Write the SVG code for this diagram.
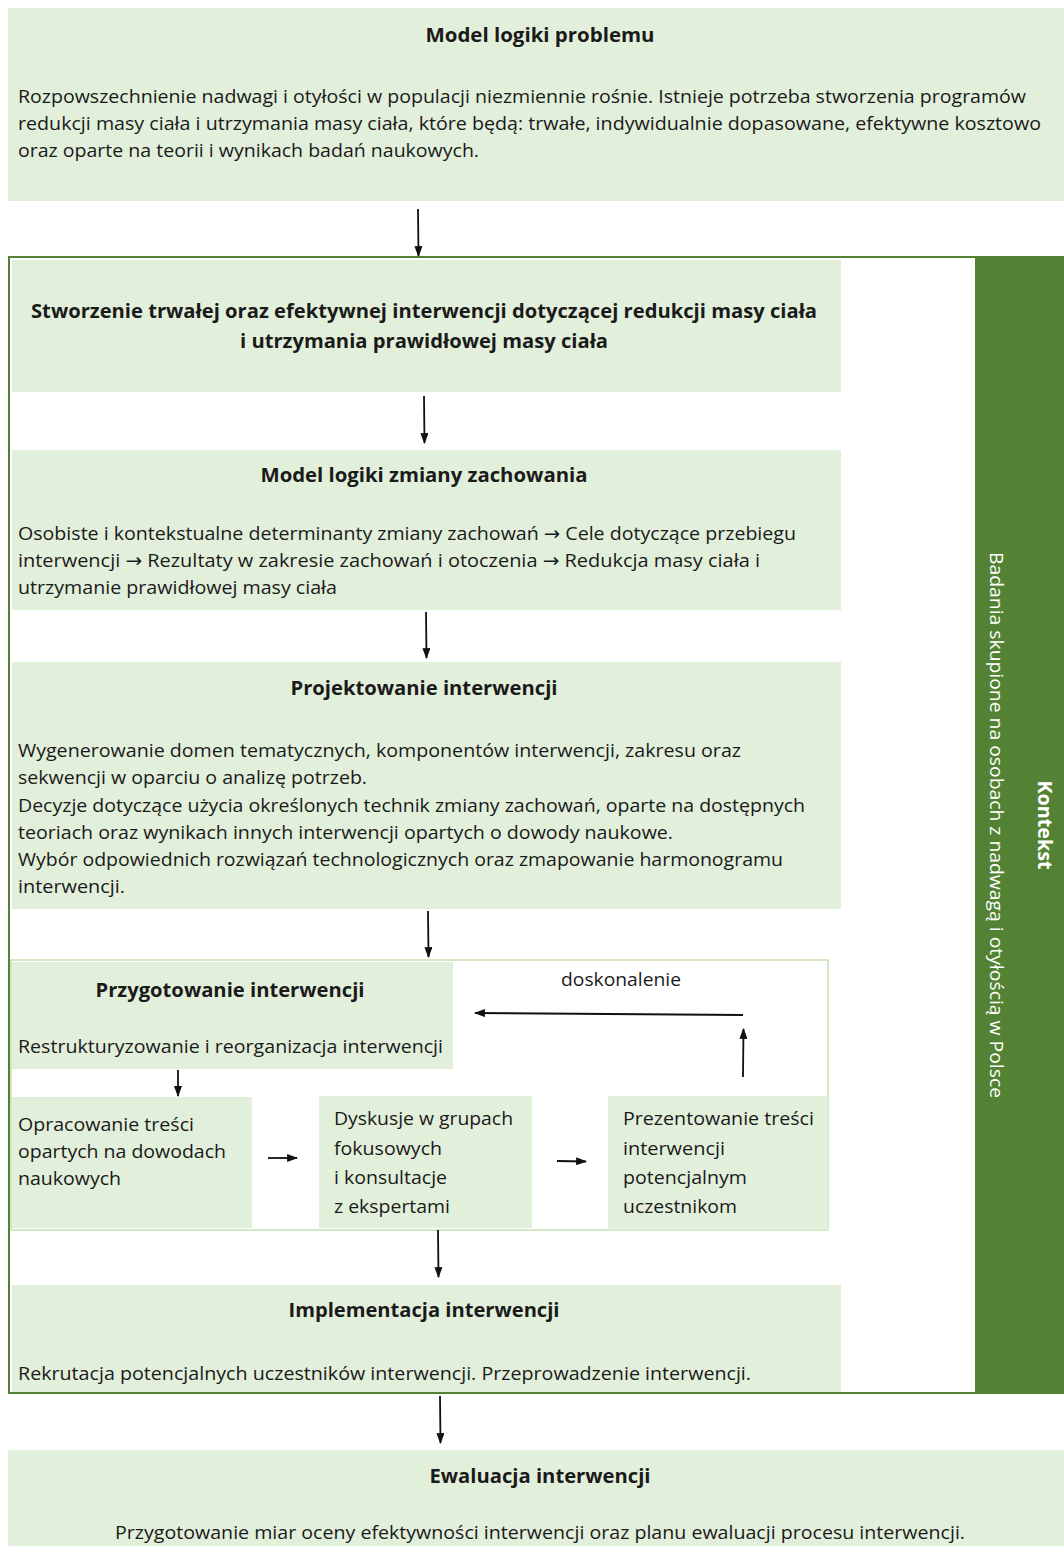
<svg xmlns="http://www.w3.org/2000/svg" width="1064" height="1546" viewBox="0 0 1064 1546">
<style>
.box{fill:#e2efda}
.t{font-family:"Open Sans","Liberation Sans",sans-serif;font-size:19px;fill:#1a1a1a}
.b{font-family:"Open Sans","Liberation Sans",sans-serif;font-size:20px;font-weight:bold;fill:#1a1a1a}
.c{text-anchor:middle}
.arr{font-family:"DejaVu Sans",sans-serif}
.ar{stroke:#111;stroke-width:1.8;fill:none;marker-end:url(#ah)}
</style>
<defs>
<marker id="ah" viewBox="0 0 10 10" refX="9" refY="5" markerWidth="11" markerHeight="8" markerUnits="userSpaceOnUse" orient="auto" preserveAspectRatio="none">
<path d="M0,0 L10,5 L0,10 z" fill="#111"/>
</marker>
</defs>
<rect width="1064" height="1546" fill="#ffffff"/>

<g id="frame">
<rect x="9" y="257" width="1055" height="1136" fill="none" stroke="#548235" stroke-width="2"/>
<rect x="11" y="960" width="817" height="270" fill="none" stroke="#c5e0b4" stroke-width="1.5"/>
</g>

<g id="context">
<rect x="975" y="257" width="89" height="1137" fill="#548235"/>
<text class="b c" style="fill:#ffffff" transform="translate(1045,825) rotate(90)" dominant-baseline="central" textLength="89" lengthAdjust="spacingAndGlyphs">Kontekst</text>
<text class="t c" style="fill:#ffffff" transform="translate(997,825) rotate(90)" dominant-baseline="central" textLength="546" lengthAdjust="spacingAndGlyphs">Badania skupione na osobach z nadwagą i otyłością w Polsce</text>
</g>

<g id="problem">
<rect class="box" x="8" y="8" width="1056" height="193"/>
<text class="b c" x="540" y="42" textLength="229" lengthAdjust="spacingAndGlyphs">Model logiki problemu</text>
<text class="t" x="18" y="103" textLength="1008" lengthAdjust="spacingAndGlyphs">Rozpowszechnienie nadwagi i otyłości w populacji niezmiennie rośnie. Istnieje potrzeba stworzenia programów</text>
<text class="t" x="18" y="130" textLength="1023" lengthAdjust="spacingAndGlyphs">redukcji masy ciała i utrzymania masy ciała, które będą: trwałe, indywidualnie dopasowane, efektywne kosztowo</text>
<text class="t" x="18" y="157" textLength="461" lengthAdjust="spacingAndGlyphs">oraz oparte na teorii i wynikach badań naukowych.</text>
</g>

<g id="goal">
<rect class="box" x="12" y="260" width="829" height="132"/>
<text class="b c" x="424" y="318" textLength="786" lengthAdjust="spacingAndGlyphs">Stworzenie trwałej oraz efektywnej interwencji dotyczącej redukcji masy ciała</text>
<text class="b c" x="424" y="348" textLength="368" lengthAdjust="spacingAndGlyphs">i utrzymania prawidłowej masy ciała</text>
</g>

<g id="behaviour">
<rect class="box" x="12" y="450" width="829" height="160"/>
<text class="b c" x="424" y="482" textLength="327" lengthAdjust="spacingAndGlyphs">Model logiki zmiany zachowania</text>
<text class="t" x="18" y="540" textLength="778" lengthAdjust="spacingAndGlyphs">Osobiste i kontekstualne determinanty zmiany zachowań <tspan class="arr">→</tspan> Cele dotyczące przebiegu</text>
<text class="t" x="18" y="567" textLength="742" lengthAdjust="spacingAndGlyphs">interwencji <tspan class="arr">→</tspan> Rezultaty w zakresie zachowań i otoczenia <tspan class="arr">→</tspan>  Redukcja masy ciała i</text>
<text class="t" x="18" y="594" textLength="319" lengthAdjust="spacingAndGlyphs">utrzymanie prawidłowej masy ciała</text>
</g>

<g id="design">
<rect class="box" x="12" y="662" width="829" height="247"/>
<text class="b c" x="424" y="695" textLength="267" lengthAdjust="spacingAndGlyphs">Projektowanie interwencji</text>
<text class="t" x="18" y="757" textLength="723" lengthAdjust="spacingAndGlyphs">Wygenerowanie domen tematycznych, komponentów interwencji, zakresu oraz</text>
<text class="t" x="18" y="784" textLength="349" lengthAdjust="spacingAndGlyphs">sekwencji w oparciu o analizę potrzeb.</text>
<text class="t" x="18" y="812" textLength="787" lengthAdjust="spacingAndGlyphs">Decyzje dotyczące użycia określonych technik zmiany zachowań, oparte na dostępnych</text>
<text class="t" x="18" y="839" textLength="655" lengthAdjust="spacingAndGlyphs">teoriach oraz wynikach innych interwencji opartych o dowody naukowe.</text>
<text class="t" x="18" y="866" textLength="765" lengthAdjust="spacingAndGlyphs">Wybór odpowiednich rozwiązań technologicznych oraz zmapowanie harmonogramu</text>
<text class="t" x="18" y="893" textLength="107" lengthAdjust="spacingAndGlyphs">interwencji.</text>
</g>

<g id="prep">
<rect class="box" x="12" y="962" width="441" height="107"/>
<text class="b c" x="230" y="997" textLength="269" lengthAdjust="spacingAndGlyphs">Przygotowanie interwencji</text>
<text class="t" x="18" y="1053" textLength="425" lengthAdjust="spacingAndGlyphs">Restrukturyzowanie i reorganizacja interwencji</text>
</g>

<g id="label-doskonalenie">
<text class="t c" x="621" y="986" textLength="120" lengthAdjust="spacingAndGlyphs">doskonalenie</text>
</g>

<g id="evidence">
<rect class="box" x="12" y="1097" width="240" height="131"/>
<text class="t" x="18" y="1131" textLength="176" lengthAdjust="spacingAndGlyphs">Opracowanie treści</text>
<text class="t" x="18" y="1158" textLength="208" lengthAdjust="spacingAndGlyphs">opartych na dowodach</text>
<text class="t" x="18" y="1185" textLength="103" lengthAdjust="spacingAndGlyphs">naukowych</text>
</g>

<g id="focus">
<rect class="box" x="319" y="1096" width="213" height="132"/>
<text class="t" x="334" y="1125" textLength="179" lengthAdjust="spacingAndGlyphs">Dyskusje w grupach</text>
<text class="t" x="334" y="1155" textLength="108" lengthAdjust="spacingAndGlyphs">fokusowych</text>
<text class="t" x="334" y="1184" textLength="113" lengthAdjust="spacingAndGlyphs">i konsultacje</text>
<text class="t" x="334" y="1213" textLength="116" lengthAdjust="spacingAndGlyphs">z ekspertami</text>
</g>

<g id="present">
<rect class="box" x="608" y="1096" width="220" height="134"/>
<text class="t" x="623" y="1125" textLength="191" lengthAdjust="spacingAndGlyphs">Prezentowanie treści</text>
<text class="t" x="623" y="1155" textLength="102" lengthAdjust="spacingAndGlyphs">interwencji</text>
<text class="t" x="623" y="1184" textLength="124" lengthAdjust="spacingAndGlyphs">potencjalnym</text>
<text class="t" x="623" y="1213" textLength="114" lengthAdjust="spacingAndGlyphs">uczestnikom</text>
</g>

<g id="implementation">
<rect class="box" x="12" y="1285" width="829" height="107"/>
<text class="b c" x="424" y="1317" textLength="271" lengthAdjust="spacingAndGlyphs">Implementacja interwencji</text>
<text class="t" x="18" y="1380" textLength="733" lengthAdjust="spacingAndGlyphs">Rekrutacja potencjalnych uczestników interwencji. Przeprowadzenie interwencji.</text>
</g>

<g id="evaluation">
<rect class="box" x="8" y="1450" width="1056" height="96"/>
<text class="b c" x="540" y="1483" textLength="221" lengthAdjust="spacingAndGlyphs">Ewaluacja interwencji</text>
<text class="t c" x="540" y="1539" textLength="850" lengthAdjust="spacingAndGlyphs">Przygotowanie miar oceny efektywności interwencji oraz planu ewaluacji procesu interwencji.</text>
</g>

<g id="connectors">
<line class="ar" x1="418" y1="209" x2="418.5" y2="256"/>
<line class="ar" x1="424" y1="396" x2="424.5" y2="443"/>
<line class="ar" x1="426" y1="612" x2="426.5" y2="658"/>
<line class="ar" x1="428" y1="911" x2="428.5" y2="957"/>
<line class="ar" x1="178" y1="1070" x2="178" y2="1096"/>
<line class="ar" x1="268" y1="1158" x2="297" y2="1158"/>
<line class="ar" x1="557" y1="1161" x2="586" y2="1161.5"/>
<line class="ar" x1="743" y1="1077" x2="743.5" y2="1029"/>
<line class="ar" x1="743" y1="1015" x2="475" y2="1013"/>
<line class="ar" x1="438" y1="1230" x2="438.5" y2="1277"/>
<line class="ar" x1="440" y1="1396" x2="440.5" y2="1443"/>
</g>
</svg>
